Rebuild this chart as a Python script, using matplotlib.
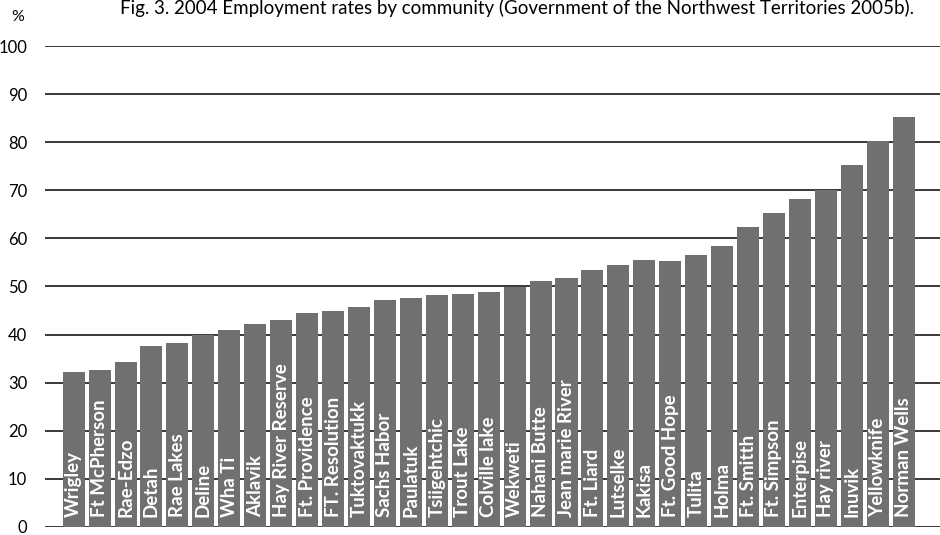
import numpy as np
import matplotlib.pyplot as plt

# data
communities = ["Wrigley", "Ft McPherson", "Rae-Edzo", "Detah", "Rae Lakes", "Deline",
               "Wha Ti", "Aklavik", "Hay River Reserve", "Ft. Providence", "FT. Resolution",
               "Tuktovaktukk", "Sachs Habor", "Paulatuk", "Tsiigehtchic", "Trout Lake",
               "Colville lake", "Wekweti", "Nahani Butte", "Jean marie River", "Ft. Liard",
               "Lutselke", "Kakisa", "Ft. Good Hope", "Tulita", "Holma", "Ft. Smitth",
               "Ft. Simpson", "Enterpise", "Hay river", "Inuvik", "Yellowknife", "Norman Wells"]
rates = [32.2, 32.7, 34.3, 37.7, 38.3, 39.9, 41.0, 42.1, 43.1, 44.4, 45.0,
         45.7, 47.1, 47.7, 48.2, 48.4, 48.8, 49.8, 51.2, 51.8, 53.4,
         54.4, 55.5, 55.3, 56.5, 58.4, 62.3, 65.2, 68.1, 70.1, 75.2, 80.2, 85.3]
yticks = [0, 10, 20, 30, 40, 50, 60, 70, 80, 90, 100]

plt.rcParams['font.family'] = ['Lato', 'DejaVu Sans']

fig = plt.figure(figsize=(9.4, 5.35), dpi=100)
ax = fig.add_axes([0.048, 0.015, 0.952, 0.899])

x = np.arange(len(communities))
ax.bar(x, rates, width=0.85, color="#707070", zorder=2)

# white labels inside the bars
for xi, name in zip(x, communities):
    ax.text(xi, 2.0, name, rotation=90, ha="center", va="bottom",
            color="white", fontsize=13.5, fontweight="bold", zorder=3)

ax.set_ylim(0, 100)
ax.set_xlim(-1.1, 33.4)
ax.set_yticks(yticks)
ax.set_yticklabels([str(t) for t in yticks], fontsize=12)
ax.set_xticks([])
ax.tick_params(axis="y", length=0, pad=13)
ax.grid(axis="y", color="#2a2a2a", linewidth=1.3, zorder=1)
for s in ax.spines.values():
    s.set_visible(False)

fig.text(0.012, 0.968, "%", fontsize=11.5, ha="left", va="center")
fig.text(0.128, 0.973, "Fig. 3. 2004 Employment rates by community (Government of the Northwest Territories 2005b).",
         fontsize=13.5, ha="left", va="baseline")

fig.savefig("out.png", dpi=100)
